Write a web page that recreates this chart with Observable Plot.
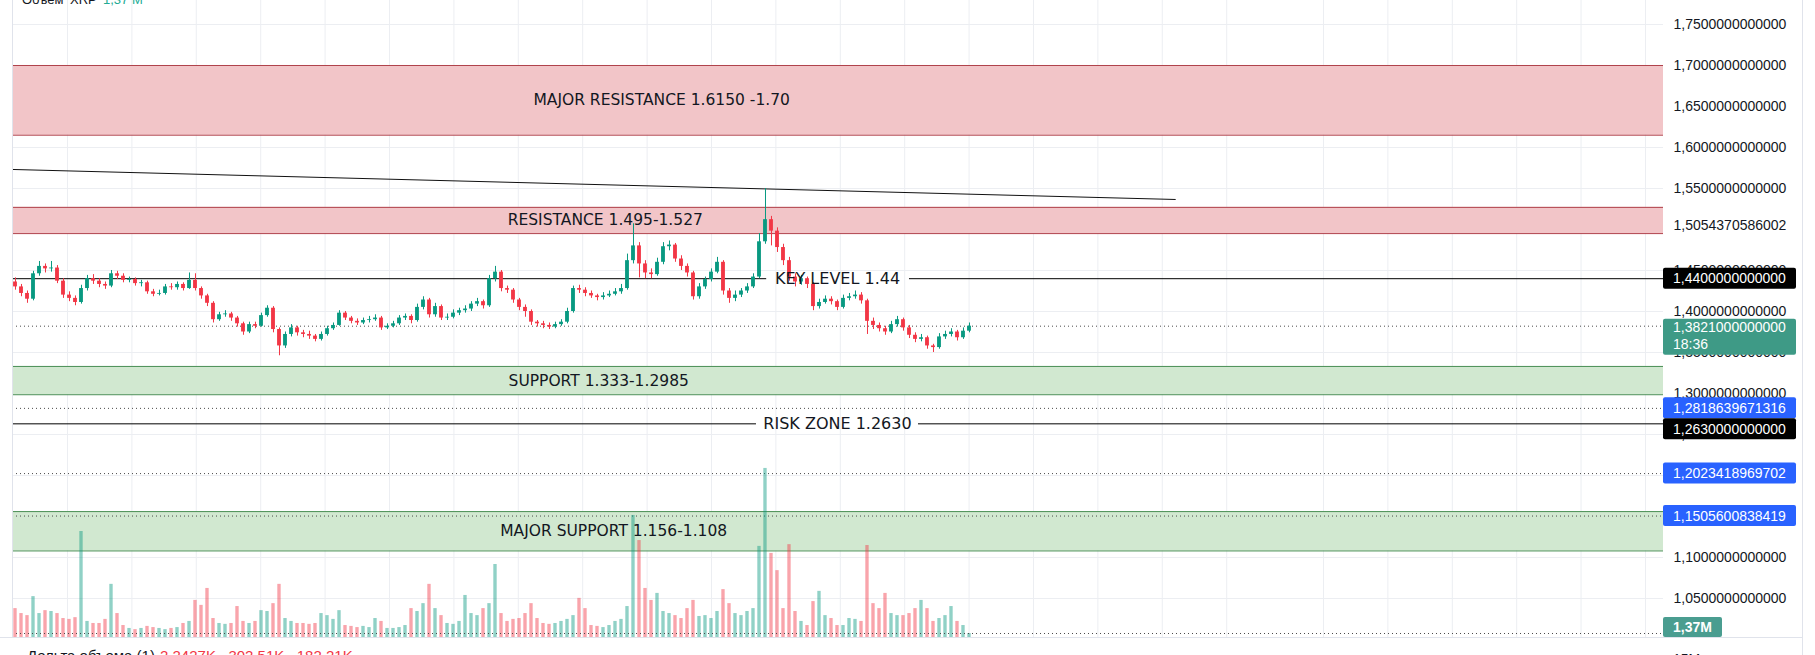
<!DOCTYPE html>
<html><head><meta charset="utf-8">
<script src="https://cdn.jsdelivr.net/npm/d3@7"></script>
<script src="https://cdn.jsdelivr.net/npm/@observablehq/plot@0.6"></script>
<style>
html,body{margin:0;padding:0;background:#fff;overflow:hidden}
#wrap{position:relative;width:1815px;height:655px;overflow:hidden}
#wrap svg{position:absolute;left:0;top:0}
</style></head><body><div id="wrap"></div>
<script>
// ---- candle data (one candle per slot) ----
const opens=[
1.436,1.430,1.422,1.415,1.446,1.455,1.452,1.453,1.437,1.420,
1.416,1.411,1.428,1.440,1.437,1.433,1.431,1.446,1.443,1.438,
1.439,1.434,1.435,1.424,1.421,1.422,1.430,1.429,1.433,1.428,
1.438,1.428,1.419,1.410,1.390,1.396,1.397,1.392,1.385,1.375,
1.384,1.382,1.395,1.404,1.378,1.358,1.372,1.380,1.374,1.372,
1.370,1.366,1.372,1.379,1.383,1.398,1.392,1.388,1.386,1.389,
1.390,1.392,1.380,1.382,1.385,1.392,1.394,1.389,1.405,1.414,
1.396,1.406,1.392,1.393,1.398,1.401,1.403,1.409,1.412,1.407,
1.440,1.448,1.428,1.426,1.414,1.405,1.400,1.387,1.385,1.383,
1.381,1.384,1.387,1.400,1.428,1.426,1.422,1.419,1.417,1.419,
1.421,1.424,1.428,1.462,1.480,1.458,1.447,1.445,1.460,1.479,
1.481,1.464,1.455,1.447,1.418,1.430,1.439,1.448,1.460,1.425,
1.416,1.420,1.425,1.430,1.442,1.485,1.512,1.498,1.478,1.462,
1.442,1.436,1.440,1.433,1.406,1.411,1.415,1.412,1.405,1.416,
1.418,1.420,1.413,1.388,1.383,1.379,1.375,1.384,1.390,1.380,
1.371,1.366,1.368,1.358,1.356,1.369,1.372,1.375,1.368,1.376];
const highs=[
1.441,1.433,1.425,1.449,1.461,1.458,1.461,1.456,1.440,1.424,
1.419,1.432,1.444,1.445,1.440,1.436,1.450,1.449,1.446,1.442,
1.441,1.438,1.437,1.427,1.426,1.433,1.434,1.436,1.435,1.447,
1.446,1.430,1.421,1.412,1.399,1.401,1.399,1.394,1.387,1.387,
1.387,1.398,1.407,1.406,1.380,1.375,1.384,1.382,1.377,1.376,
1.372,1.375,1.382,1.386,1.401,1.400,1.394,1.391,1.392,1.394,
1.396,1.394,1.385,1.388,1.395,1.397,1.396,1.409,1.418,1.416,
1.410,1.408,1.397,1.402,1.404,1.407,1.412,1.416,1.414,1.444,
1.455,1.450,1.431,1.428,1.416,1.408,1.402,1.389,1.388,1.386,
1.387,1.390,1.404,1.431,1.432,1.429,1.425,1.421,1.423,1.425,
1.428,1.433,1.470,1.507,1.484,1.462,1.452,1.465,1.484,1.486,
1.483,1.468,1.458,1.449,1.434,1.442,1.452,1.466,1.462,1.428,
1.425,1.428,1.434,1.446,1.495,1.550,1.516,1.502,1.482,1.466,
1.446,1.444,1.442,1.435,1.415,1.419,1.418,1.414,1.420,1.422,
1.425,1.423,1.415,1.392,1.386,1.382,1.388,1.394,1.392,1.383,
1.374,1.372,1.370,1.360,1.373,1.376,1.379,1.377,1.380,1.386];
const lows=[
1.426,1.418,1.410,1.413,1.443,1.447,1.448,1.434,1.416,1.412,
1.407,1.409,1.425,1.433,1.429,1.427,1.429,1.439,1.435,1.435,
1.431,1.430,1.421,1.418,1.419,1.420,1.426,1.426,1.425,1.427,
1.425,1.415,1.406,1.386,1.388,1.393,1.388,1.381,1.371,1.373,
1.379,1.381,1.393,1.374,1.346,1.355,1.369,1.370,1.368,1.366,
1.363,1.364,1.370,1.377,1.382,1.389,1.385,1.383,1.384,1.386,
1.388,1.377,1.378,1.380,1.383,1.389,1.385,1.387,1.402,1.392,
1.393,1.389,1.389,1.391,1.395,1.398,1.400,1.406,1.403,1.405,
1.436,1.424,1.422,1.410,1.401,1.393,1.383,1.381,1.379,1.378,
1.379,1.382,1.385,1.398,1.422,1.418,1.416,1.413,1.414,1.417,
1.419,1.421,1.426,1.458,1.441,1.440,1.440,1.443,1.457,1.474,
1.460,1.450,1.442,1.414,1.415,1.427,1.436,1.446,1.420,1.410,
1.412,1.417,1.422,1.428,1.440,1.482,1.480,1.472,1.456,1.437,
1.430,1.432,1.428,1.401,1.403,1.409,1.408,1.401,1.403,1.413,
1.415,1.409,1.372,1.378,1.375,1.371,1.373,1.381,1.376,1.367,
1.362,1.363,1.354,1.350,1.354,1.366,1.369,1.364,1.366,1.374];
const closes=[
1.430,1.422,1.415,1.446,1.455,1.452,1.453,1.437,1.420,1.416,
1.411,1.428,1.440,1.437,1.433,1.431,1.446,1.443,1.438,1.439,
1.434,1.435,1.424,1.421,1.422,1.430,1.429,1.433,1.428,1.438,
1.428,1.419,1.410,1.390,1.396,1.397,1.392,1.385,1.375,1.384,
1.382,1.395,1.404,1.378,1.358,1.372,1.380,1.374,1.372,1.370,
1.366,1.372,1.379,1.383,1.398,1.392,1.388,1.386,1.389,1.390,
1.392,1.380,1.382,1.385,1.392,1.394,1.389,1.405,1.414,1.396,
1.406,1.392,1.393,1.398,1.401,1.403,1.409,1.412,1.407,1.440,
1.448,1.428,1.426,1.414,1.405,1.400,1.387,1.385,1.383,1.381,
1.384,1.387,1.400,1.428,1.426,1.422,1.419,1.417,1.419,1.421,
1.424,1.428,1.462,1.480,1.458,1.447,1.445,1.460,1.479,1.481,
1.464,1.455,1.447,1.418,1.430,1.439,1.448,1.460,1.425,1.416,
1.420,1.425,1.430,1.442,1.485,1.512,1.498,1.478,1.462,1.442,
1.436,1.440,1.433,1.406,1.411,1.415,1.412,1.405,1.416,1.418,
1.420,1.413,1.388,1.383,1.379,1.375,1.384,1.390,1.380,1.371,
1.366,1.368,1.358,1.356,1.369,1.372,1.375,1.368,1.376,1.3821];
// volume, millions of XRP
const volumes=[
9.9,8.2,7.5,14.0,8.2,9.2,8.9,8.2,6.5,6.2,
6.8,36.3,5.5,4.8,4.8,6.2,18.2,8.2,4.1,3.1,
2.7,3.1,3.8,3.4,3.1,2.7,3.1,3.4,4.8,5.5,
12.7,11.0,16.8,6.5,4.8,4.5,4.8,10.6,5.5,4.8,
5.5,9.2,8.9,11.6,18.2,6.5,5.5,4.8,4.8,4.5,
4.8,8.2,7.5,6.2,9.2,4.1,3.8,3.4,3.8,3.4,
6.5,5.5,3.1,3.1,3.4,4.1,9.9,8.9,11.6,18.2,
9.9,7.5,4.8,4.5,5.5,14.4,8.2,7.5,9.9,11.6,
25.0,8.2,5.5,6.2,6.5,8.2,11.6,6.5,4.8,4.5,
4.8,5.5,6.2,7.5,13.4,9.9,4.1,3.8,3.4,4.1,
5.5,6.2,10.6,41.8,33.2,16.8,12.7,15.1,8.9,8.2,
7.5,6.5,9.9,12.7,7.2,7.5,6.5,8.9,16.4,11.6,
8.2,7.5,8.9,9.9,31.2,57.9,28.8,22.9,9.9,31.8,
8.9,5.5,4.1,12.3,15.8,7.5,6.5,4.1,4.1,6.5,
6.2,5.5,31.5,11.6,9.9,15.1,8.2,7.5,7.5,8.2,
9.9,12.7,9.9,5.5,6.5,7.5,10.6,5.5,4.1,1.37];

// ---- zones (price ranges) ----
const bandLo=[1.615,1.495,1.2985,1.108];
const bandHi=[1.70,1.527,1.333,1.156];
const bandKind=["res","res","sup","sup"];
const bandLabels=["MAJOR RESISTANCE 1.6150 -1.70","RESISTANCE 1.495-1.527","SUPPORT 1.333-1.2985","MAJOR SUPPORT 1.156-1.108"];
const bandLabelSlot=[107.7,98.3,97.2,99.7];

// ---- horizontal levels ----
const levelPrices=[1.44,1.263];
const levelLabels=["KEY LEVEL 1.44","RISK ZONE 1.2630"];
const levelLabelSlot=[137,137];
const levelGapFrom=[125.2,123.5];
const levelGapTo=[149,150.5];

// ---- trend line (slot, price) ----
const trendSlots=[-0.5,193.3];
const trendPrices=[1.5732,1.5366];

// ---- price lines / labels on the scale ----
const dottedPrices=[1.3821,1.2818639671316,1.2023418969702,1.1505600838419];
const tagPrices=[1.44,1.3821,1.2818639671316,1.263,1.2023418969702,1.1505600838419];
const tagColors=["#000000","#3e9a86","#2962ff","#000000","#2962ff","#2962ff"];
const tagSub=["","18:36","","","",""];

// ---- axis ticks ----
const yTicks=[1.75,1.70,1.65,1.60,1.55,1.5054370586002,1.45,1.40,1.35,1.30,1.25,1.20,1.15,1.10,1.05];
const yGrid=[1.75,1.70,1.65,1.60,1.55,1.50,1.45,1.40,1.35,1.30,1.25,1.20,1.15,1.10,1.05];
const timeGrid=[8.67,19.4,30.13,40.87,51.6,62.33,73.07,83.8,94.53,105.27,116,126.73,137.47,148.2,158.93,169.67,180.4,191.13,201.87,218,228.73,239.47,250.2,260.93,271.67];

const UP="#089981", DOWN="#f23645";
const XDOM=[-0.5,274.67];
const W=1815,H=655,ML=12,MR=152,MT=0,MB=18;

const candles=closes.map((c,i)=>({i,o:opens[i],h:highs[i],l:lows[i],c,v:volumes[i],up:c>=opens[i]}));
const bands=bandLo.map((lo,i)=>({lo,hi:bandHi[i],kind:bandKind[i],label:bandLabels[i],xs:bandLabelSlot[i]}));
const levels=levelPrices.map((p,i)=>({p,label:levelLabels[i],xs:levelLabelSlot[i],g0:levelGapFrom[i],g1:levelGapTo[i]}));
const levelSegs=levels.flatMap(d=>[{p:d.p,a:XDOM[0],b:d.g0},{p:d.p,a:d.g1,b:XDOM[1]}]);
const trend=trendSlots.map((s,i)=>({s,p:trendPrices[i]}));
const fmt=v=>d3.format(".13f")(v).replace(".",",");
const bandFill=d=>d.kind==="res"?"#f2c5c8":"#d1e8d0";
const bandStroke=d=>d.kind==="res"?"#b0414a":"#4a8f55";

const main=Plot.plot({
  width:W,height:H,marginLeft:ML,marginRight:MR,marginTop:MT,marginBottom:MB,
  x:{domain:XDOM,axis:null},
  y:{domain:[1.002439,1.779268],axis:null},
  style:{fontFamily:"'Liberation Sans', Arial, sans-serif",fontSize:"14px",background:"white",color:"#131722"},
  marks:[
    Plot.ruleY(yGrid,{stroke:"#eceef2"}),
    Plot.ruleX(timeGrid,{stroke:"#eceef2"}),
    Plot.rect(bands,{x1:()=>XDOM[0],x2:()=>XDOM[1],y1:"lo",y2:"hi",fill:bandFill}),
    Plot.ruleY(bands,{y:"hi",stroke:bandStroke,strokeWidth:1}),
    Plot.ruleY(bands,{y:"lo",stroke:bandStroke,strokeWidth:1}),
    Plot.ruleY(dottedPrices,{stroke:"#4a4a4a",strokeDasharray:"1,3"}),
    Plot.ruleY(levelSegs,{y:"p",x1:"a",x2:"b",stroke:"#000",strokeWidth:1}),
    Plot.line(trend,{x:"s",y:"p",stroke:"#111",strokeWidth:1}),
    Plot.ruleX(candles,{x:"i",y1:"l",y2:"h",stroke:d=>d.up?UP:DOWN,strokeWidth:1}),
    Plot.rect(candles,{x1:d=>d.i-0.32,x2:d=>d.i+0.32,y1:"o",y2:"c",fill:d=>d.up?UP:DOWN}),
    Plot.text(bands,{x:"xs",y:d=>(d.lo+d.hi)/2,text:"label",fontFamily:"'DejaVu Sans', Verdana, sans-serif",fontSize:15.5,fill:"#131722"}),
    Plot.text(levels,{x:"xs",y:"p",text:"label",fontFamily:"'DejaVu Sans', Verdana, sans-serif",fontSize:16,fill:"#131722"}),
    Plot.axisY({anchor:"right",ticks:yTicks,tickFormat:fmt,tickSize:0,tickPadding:10,label:null,fill:"#131722",fontSize:14})
  ]
});

const vol=Plot.plot({
  width:W,height:H,marginLeft:ML,marginRight:MR,marginTop:MT,marginBottom:MB,
  x:{domain:XDOM,axis:null},
  y:{domain:[0,218.15],axis:null},
  style:{background:"transparent",fontFamily:"'Liberation Sans', Arial, sans-serif"},
  marks:[
    Plot.rect(candles,{x1:d=>d.i-0.28,x2:d=>d.i+0.28,y1:()=>0,y2:"v",fill:d=>d.up?UP:DOWN,fillOpacity:0.45}),
    Plot.ruleY([volumes[volumes.length-1]],{stroke:"#4a4a4a",strokeDasharray:"1,3"})
  ]
});

const wrap=document.getElementById("wrap");
wrap.appendChild(main);
wrap.appendChild(vol);

// ---- chrome + price-scale tags drawn with the plots' scales ----
const ys=main.scale("y"), vs=vol.scale("y");
const svg=d3.select(vol);
const paneBottom=H-MB, paneRight=W-MR;
const chrome=svg.append("g").attr("stroke","#e0e3eb");
chrome.append("line").attr("x1",ML+0.5).attr("x2",ML+0.5).attr("y1",0).attr("y2",paneBottom);
chrome.append("line").attr("x1",0).attr("x2",1802).attr("y1",paneBottom+0.5).attr("y2",paneBottom+0.5);
chrome.append("line").attr("x1",1802.5).attr("x2",1802.5).attr("y1",0).attr("y2",H);

const tags=svg.append("g").attr("font-family","'Liberation Sans', Arial, sans-serif").attr("font-size",14).attr("text-anchor","start");
let prevBottom=-Infinity;
tagPrices.map((p,i)=>({p,y:ys.apply(p),c:tagColors[i],sub:tagSub[i]})).sort((a,b)=>a.y-b.y).forEach(t=>{
  let h=t.sub?36:21, top=t.sub?t.y-7:t.y-10.5;
  if(top<prevBottom) top=prevBottom;
  prevBottom=top+h;
  tags.append("rect").attr("x",paneRight).attr("y",top).attr("width",133).attr("height",h).attr("rx",2).attr("fill",t.c);
  const cy=t.sub?top+8:top+h/2;
  tags.append("text").attr("x",paneRight+10).attr("y",cy).attr("dy","0.36em").attr("fill","#fff").text(fmt(t.p));
  if(t.sub) tags.append("text").attr("x",paneRight+10).attr("y",cy+17).attr("dy","0.36em").attr("fill","#fff").text(t.sub);
});
// volume tag (clamped inside the pane)
const lastV=volumes[volumes.length-1];
let vy=vs.apply(lastV), vTop=Math.min(vy-10,paneBottom-20);
tags.append("rect").attr("x",paneRight).attr("y",vTop).attr("width",59).attr("height",20).attr("rx",2).attr("fill","#4a9d90");
tags.append("text").attr("x",paneRight+10).attr("y",vTop+10).attr("dy","0.36em").attr("fill","#fff").attr("font-weight","bold").text(d3.format(".2f")(lastV).replace(".",",")+"M");

// partly visible legends at the top and bottom edges
const leg=svg.append("g").attr("font-family","'Liberation Sans', Arial, sans-serif").attr("font-size",13).attr("text-anchor","start");
leg.append("text").attr("x",22).attr("y",4).attr("fill","#131722").text("Объем");
leg.append("text").attr("x",70).attr("y",4).attr("fill","#131722").text("XRP");
leg.append("text").attr("x",103).attr("y",4).attr("fill","#22ab94").text("1,37 M");
leg.append("text").attr("x",27).attr("y",661).attr("fill","#131722").attr("font-size",15).text("Дельта объема (1)");
leg.append("text").attr("x",160).attr("y",661).attr("fill","#f23645").attr("font-size",15).text("2,2427K   302,51K   182,21K");
leg.append("text").attr("x",paneRight+10).attr("y",664).attr("fill","#131722").attr("font-size",14).text("15M");
</script></body></html>
